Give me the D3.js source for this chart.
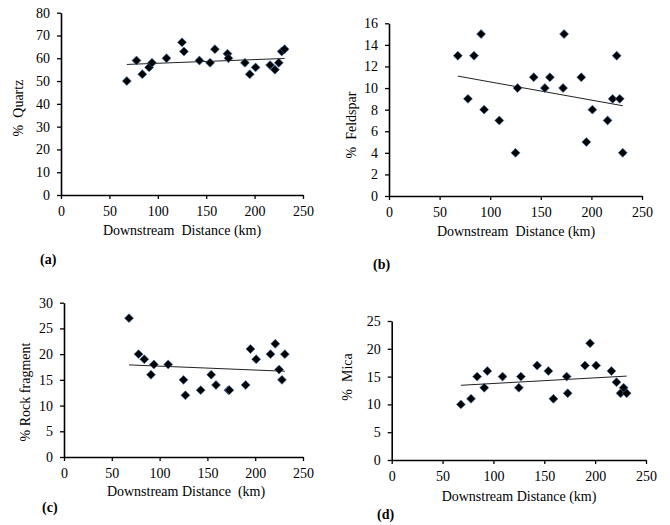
<!DOCTYPE html>
<html>
<head>
<meta charset="utf-8">
<script src="https://cdn.jsdelivr.net/npm/d3@7"></script>
<style>
  body { margin: 0; background: #fff; }
  text { font-family: "Liberation Serif", "Times New Roman", serif; fill: #000; white-space: pre; }
</style>
</head>
<body>
<div id="chart"></div>
<script>
// sampling stations, downstream distance (km)
const distance = [68, 78, 84, 91, 94, 109, 125, 127, 143, 154, 159, 172, 173, 190, 195, 201, 216, 221, 225, 228, 231];

// composition (%) at each station
const quartz       = [50, 59, 53, 56, 58, 60, 67, 63, 59, 58, 64, 62, 60, 58, 53, 56, 57, 55, 58, 63, 64];
const feldspar     = [13, 9, 13, 15, 8, 7, 4, 10, 11, 10, 11, 10, 15, 11, 5, 8, 7, 9, 13, 9, 4];
const rockFragment = [27, 20, 19, 16, 18, 18, 15, 12, 13, 16, 14, 13, 13, 14, 21, 19, 20, 22, 17, 15, 20];
const mica         = [10, 11, 15, 13, 16, 15, 13, 15, 17, 16, 11, 15, 12, 17, 21, 17, 16, 14, 12, 13, 12];

const xTicks = [0, 50, 100, 150, 200, 250];
const quartzTicks = [0, 10, 20, 30, 40, 50, 60, 70, 80];
const feldsparTicks = [0, 2, 4, 6, 8, 10, 12, 14, 16];
const rockTicks = [0, 5, 10, 15, 20, 25, 30];
const micaTicks = [0, 5, 10, 15, 20, 25];

const width = 670, height = 525;

const svg = d3.select("#chart")
  .append("svg")
  .attr("width", width)
  .attr("height", height);

svg.append("rect").attr("width", width).attr("height", height).attr("fill", "#fff");

// least squares fit for the trend line
function linearFit(xs, ys) {
  const mx = d3.mean(xs), my = d3.mean(ys);
  let sxy = 0, sxx = 0;
  for (let i = 0; i < xs.length; i++) {
    sxy += (xs[i] - mx) * (ys[i] - my);
    sxx += (xs[i] - mx) * (xs[i] - mx);
  }
  const b = sxy / sxx;
  return x => my + b * (x - mx);
}

function drawPanel(p) {
  const x = d3.scaleLinear().domain([0, 250]).range([p.x0, p.x1]);
  const y = d3.scaleLinear().domain([0, d3.max(p.yTicks)]).range([p.y0, p.y1]);

  const g = svg.append("g");

  const xAxis = g.append("g")
    .attr("transform", "translate(0," + p.y0 + ")")
    .call(d3.axisBottom(x).tickValues(xTicks).tickSize(4).tickSizeOuter(0).tickPadding(7));

  const yAxis = g.append("g")
    .attr("transform", "translate(" + p.x0 + ",0)")
    .call(d3.axisLeft(y).tickValues(p.yTicks).tickSize(4).tickSizeOuter(0).tickPadding(7));

  [xAxis, yAxis].forEach(a => {
    a.attr("font-family", null).attr("font-size", null);
    a.select(".domain").attr("stroke", "#000").attr("stroke-width", 1.6);
    a.selectAll(".tick line").attr("stroke", "#000").attr("stroke-width", 1.3);
    a.selectAll(".tick text")
      .style("font-size", "14px")
      .attr("fill", "#000");
  });

  // trend line
  const fit = linearFit(distance, p.values);
  const xmin = d3.min(distance), xmax = d3.max(distance);
  g.append("line")
    .attr("x1", x(xmin)).attr("y1", y(fit(xmin)))
    .attr("x2", x(xmax)).attr("y2", y(fit(xmax)))
    .attr("stroke", "#222")
    .attr("stroke-width", 1);

  // diamond markers
  const diamond = d3.symbol().type(d3.symbolSquare).size(40);
  g.append("g")
    .selectAll("path")
    .data(distance.map((d, i) => [d, p.values[i]]))
    .enter()
    .append("path")
    .attr("d", diamond)
    .attr("transform", d => "translate(" + x(d[0]) + "," + y(d[1]) + ") rotate(45)")
    .attr("fill", "#000")
    .attr("stroke", "#3a6fb5")
    .attr("stroke-width", 0.6);

  g.append("text")
    .attr("x", p.xTitleX)
    .attr("y", p.xTitleY)
    .attr("text-anchor", "middle")
    .style("font-size", "14px")
    .text(p.xTitle);

  g.append("text")
    .attr("transform", "translate(" + p.yTitleX + "," + p.yTitleY + ") rotate(-90)")
    .attr("text-anchor", "middle")
    .attr("dy", "0.35em")
    .style("font-size", "14px")
    .text(p.yTitle);

  g.append("text")
    .attr("x", p.labelX)
    .attr("y", p.labelY)
    .style("font-size", "14px")
    .style("font-weight", "bold")
    .text(p.label);
}

drawPanel({ values: quartz, yTicks: quartzTicks, yTitle: "%  Quartz",
  xTitle: "Downstream  Distance (km)",
  x0: 61, x1: 303, y0: 195, y1: 12.7,
  xTitleX: 182, xTitleY: 235, yTitleX: 18, yTitleY: 108,
  label: "(a)", labelX: 40, labelY: 264 });

drawPanel({ values: feldspar, yTicks: feldsparTicks, yTitle: "%  Feldspar",
  xTitle: "Downstream  Distance (km)",
  x0: 389, x1: 642, y0: 196, y1: 23.3,
  xTitleX: 516, xTitleY: 236, yTitleX: 351, yTitleY: 125,
  label: "(b)", labelX: 373, labelY: 269 });

drawPanel({ values: rockFragment, yTicks: rockTicks, yTitle: "% Rock fragment",
  xTitle: "Downstream Distance  (km)",
  x0: 64, x1: 303, y0: 457, y1: 302.7,
  xTitleX: 186, xTitleY: 496, yTitleX: 25, yTitleY: 392,
  label: "(c)", labelX: 42, labelY: 512 });

drawPanel({ values: mica, yTicks: micaTicks, yTitle: "%  Mica",
  xTitle: "Downstream Distance (km)",
  x0: 391.7, x1: 646, y0: 460, y1: 321,
  xTitleX: 519, xTitleY: 501, yTitleX: 347, yTitleY: 377,
  label: "(d)", labelX: 377, labelY: 519 });
</script>
</body>
</html>
